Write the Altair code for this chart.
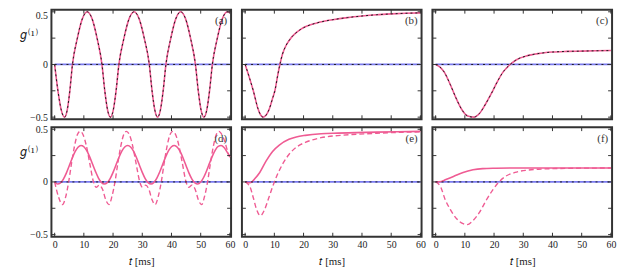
import altair as alt
import pandas as pd

# ---------------- data ----------------
# panel (a): exact (solid pink) and approximation (black dashed) coincide
t_a = [0, 1.13, 2.27, 3.4, 4.3, 5.2, 6.1, 7.78, 9.47, 11.15, 12.83, 14.52, 16.2,
       17.17, 18.13, 19.1, 20.07, 21.03, 22.0, 23.73, 25.47, 27.2, 28.93, 30.67, 32.4,
       33.35, 34.3, 35.25, 36.2, 37.15, 38.1, 39.78, 41.47, 43.15, 44.83, 46.52, 48.2,
       49.17, 50.13, 51.1, 52.07, 53.03, 54.0, 55.7, 57.4, 59.1, 60]
g_a = [0, -0.25, -0.433, -0.5, -0.433, -0.25, 0, 0.25, 0.433, 0.5, 0.433, 0.25, 0,
       -0.25, -0.433, -0.5, -0.433, -0.25, 0, 0.25, 0.433, 0.5, 0.433, 0.25, 0,
       -0.25, -0.433, -0.5, -0.433, -0.25, 0, 0.25, 0.433, 0.5, 0.433, 0.25, 0,
       -0.25, -0.433, -0.5, -0.433, -0.25, 0, 0.25, 0.433, 0.5, 0.49]

t_b = [0, 1.4, 2.8, 4.4, 5.3, 6.2, 7.2, 8.3, 9.3, 10.3, 11.1, 11.9, 12.8, 14, 15.5,
       17, 19, 21, 24, 27, 30, 35, 40, 45, 50, 55, 60]
g_b = [0, -0.12, -0.25, -0.42, -0.48, -0.5, -0.48, -0.42, -0.33, -0.235, -0.11, 0,
       0.1, 0.18, 0.245, 0.29, 0.333, 0.362, 0.39, 0.41, 0.425, 0.445, 0.46, 0.472,
       0.48, 0.486, 0.49]

t_c = [0, 1.5, 3, 5, 7, 9, 11, 13, 15, 17, 19, 21, 23, 25.5, 28, 31, 35, 40, 45, 50, 55, 60]
g_c = [0, -0.025, -0.075, -0.19, -0.32, -0.43, -0.49, -0.5, -0.465, -0.38, -0.28,
       -0.17, -0.075, 0, 0.05, 0.08, 0.103, 0.118, 0.124, 0.127, 0.13, 0.132]

t_d_solid = [0, 1, 2, 3, 4, 5, 6, 7, 8, 9, 10, 11, 12, 13, 14, 15, 16, 17, 18, 19,
             20, 21, 22, 23, 24, 25, 26, 27, 28, 29, 30, 31, 32, 33, 34, 35, 36, 37,
             38, 39, 40, 41, 42, 43, 44, 45, 46, 47, 48, 49, 50, 51, 52, 53, 54, 55,
             56, 57, 58, 59, 60]
g_d_solid = [0, -0.02, -0.01, 0.027, 0.084, 0.154, 0.225, 0.287, 0.329, 0.346,
             0.334, 0.297, 0.238, 0.168, 0.098, 0.037, -0.004, -0.02, -0.007, 0.032,
             0.091, 0.161, 0.232, 0.292, 0.332, 0.346, 0.332, 0.292, 0.232, 0.161,
             0.091, 0.032, -0.007, -0.02, -0.004, 0.037, 0.097, 0.168, 0.238, 0.297,
             0.334, 0.346, 0.329, 0.287, 0.225, 0.154, 0.084, 0.027, -0.01, -0.02,
             -0.001, 0.042, 0.104, 0.176, 0.245, 0.302, 0.337, 0.345, 0.326, 0.285, 0.24]

t_d_dash = [0, 1.3, 2.7, 3.8, 4.8, 5.8, 6.8, 7.8, 8.7, 9.7, 10.8, 12.0, 13.3, 14.2,
            15.3, 16.4, 17.5, 18.6, 19.6,
            20.65, 21.65, 22.65, 23.65, 24.55, 25.55, 26.65, 27.85, 29.15, 30.05,
            31.15, 32.25, 33.35, 34.45, 35.45,
            36.5, 37.5, 38.5, 39.5, 40.4, 41.4, 42.5, 43.7, 45.0, 45.9, 47.0, 48.1,
            49.2, 50.3, 51.3,
            52.35, 53.35, 54.35, 55.35, 56.25, 57.25, 58.4, 59.2, 60]
g_d_dash = [0, -0.14, -0.215, -0.14, 0, 0.18, 0.34, 0.45, 0.48, 0.45, 0.35, 0.18, 0,
            -0.05, -0.03, -0.07, -0.17, -0.215, -0.14,
            0, 0.18, 0.34, 0.45, 0.48, 0.45, 0.35, 0.18, 0, -0.05, -0.03, -0.07,
            -0.17, -0.215, -0.14,
            0, 0.18, 0.34, 0.45, 0.48, 0.45, 0.35, 0.18, 0, -0.05, -0.03, -0.07,
            -0.17, -0.215, -0.14,
            0, 0.18, 0.34, 0.45, 0.48, 0.45, 0.37, 0.29, 0.23]

t_e_solid = [0, 1.5, 2.5, 3.3, 5, 7.2, 9.4, 11.7, 15, 17.5, 20.6, 26, 31.7, 38, 45, 52, 60]
g_e_solid = [0, -0.008, 0.005, 0.03, 0.09, 0.2, 0.29, 0.35, 0.405, 0.427, 0.442,
             0.457, 0.463, 0.468, 0.473, 0.477, 0.48]
t_e_dash = [0, 1.7, 2.8, 3.9, 5.2, 6.7, 8.1, 10, 12.8, 15, 17.8, 20.6, 26, 31.7, 38, 45, 52, 60]
g_e_dash = [0, -0.05, -0.15, -0.26, -0.32, -0.26, -0.15, 0, 0.168, 0.26, 0.335,
            0.375, 0.42, 0.44, 0.452, 0.462, 0.47, 0.475]

t_f_solid = [0, 2, 3.3, 6.1, 9.4, 12.8, 16.1, 20.6, 26, 35, 45, 60]
g_f_solid = [0, 0.005, 0.02, 0.052, 0.09, 0.115, 0.126, 0.13, 0.132, 0.132, 0.132, 0.132]
t_f_dash = [0, 1.7, 3.3, 5, 7.2, 9.4, 10.8, 12.8, 15, 17.2, 19.4, 21.7, 23.9, 27.2,
            31.7, 36.1, 41.1, 48, 60]
g_f_dash = [0, -0.046, -0.17, -0.26, -0.35, -0.396, -0.405, -0.366, -0.29, -0.18,
            -0.082, 0, 0.052, 0.09, 0.113, 0.122, 0.127, 0.13, 0.132]

zero_t = [0, 60]
zero_g = [0, 0]

x_tick_values = [0, 10, 20, 30, 40, 50, 60]
y_tick_values = [-0.5, -0.25, 0, 0.25, 0.5]
y_label_values = [-0.5, 0, 0.5]
panel_labels = ["(a)", "(b)", "(c)", "(d)", "(e)", "(f)"]
x_title = "𝑡 [ms]"
y_title = "𝑔⁽¹⁾"

# ---------------- style ----------------
PINK = "#ef5b93"
BLUE = "#7b7bf0"
DARK = "#1a1a1a"
FRAME = "#333333"
FONT = "Liberation Serif"
W, H = 182, 111
TK = 4

xscale = alt.Scale(domain=[-1.1, 60.4], nice=False, zero=False)
yscale = alt.Scale(domain=[-0.52, 0.52], nice=False, zero=False)


def frame_df(t, g):
    return pd.DataFrame({"t": t, "g": g})


def make_panel(solid, dashed, overlay, label, show_x, show_y, top_row):
    if show_x:
        xaxis = alt.Axis(values=x_tick_values, format="d", ticks=False, domain=False,
                         grid=False, labelPadding=3, title=x_title,
                         labelFont=FONT, titleFont=FONT, labelColor="#222",
                         titleColor="#222",
                         titleFontWeight="normal", titleFontSize=11, titlePadding=6,
                         labelFontSize=10)
    else:
        xaxis = None
    if show_y:
        if top_row:
            base_line = {"condition": {"test": "datum.value > 0.4", "value": "top"},
                         "value": "middle"}
            loff = {"condition": {"test": "datum.value > 0.4", "value": -1},
                    "value": 0}
        else:
            base_line = "middle"
            loff = 0
        yaxis = alt.Axis(values=y_label_values,
                         labelExpr="datum.value == 0 ? '0' : format(datum.value, '.1f')",
                         ticks=False, domain=False, grid=False, labelPadding=4,
                         labelBaseline=base_line, labelOffset=loff,
                         labelFont=FONT, titleFont=FONT, labelColor="#222",
                         titleColor="#222",
                         title=y_title, titleAngle=0, titleX=-23, titleY=25,
                         titleAlign="center", titleBaseline="middle",
                         titleFontWeight="normal",
                         titleFontSize=12, labelFontSize=10)
    else:
        yaxis = None
    x = alt.X("t:Q", scale=xscale, axis=xaxis)
    y = alt.Y("g:Q", scale=yscale, axis=yaxis)

    zero = alt.Chart(frame_df(zero_t, zero_g))
    layers = [zero.mark_line(color=BLUE, strokeWidth=1.8).encode(x=x, y=y)]
    layers.append(alt.Chart(frame_df(*solid)).mark_line(
        color=PINK, strokeWidth=1.6, interpolate="monotone").encode(x=x, y=y))
    if dashed is not None:
        layers.append(alt.Chart(frame_df(*dashed)).mark_line(
            color=PINK, strokeWidth=1.4, strokeDash=[5, 3],
            interpolate="monotone").encode(x=x, y=y))
    if overlay:
        layers.append(alt.Chart(frame_df(*solid)).mark_line(
            color=DARK, strokeWidth=1.0, strokeDash=[2, 3],
            interpolate="monotone").encode(x=x, y=y))
    layers.append(zero.mark_line(color=DARK, strokeWidth=1.0,
                                 strokeDash=[2, 4]).encode(x=x, y=y))

    xt = alt.Chart(pd.DataFrame({"t": x_tick_values}))
    yt = alt.Chart(pd.DataFrame({"g": y_tick_values}))
    layers.append(xt.mark_rule(color=FRAME, strokeWidth=1).encode(
        x=x, y=alt.value(H), y2=alt.value(H - TK)))
    layers.append(xt.mark_rule(color=FRAME, strokeWidth=1).encode(
        x=x, y=alt.value(0), y2=alt.value(TK)))
    layers.append(yt.mark_rule(color=FRAME, strokeWidth=1).encode(
        y=y, x=alt.value(0), x2=alt.value(TK)))
    layers.append(yt.mark_rule(color=FRAME, strokeWidth=1).encode(
        y=y, x=alt.value(W), x2=alt.value(W - TK)))

    layers.append(alt.Chart(pd.DataFrame({"lab": [label]})).mark_text(
        align="right", baseline="middle", font=FONT, fontSize=11, color="#333"
    ).encode(text="lab:N", x=alt.value(W - 4), y=alt.value(12)))

    return alt.layer(*layers).properties(width=W, height=H)


panels = [
    make_panel((t_a, g_a), None, True, panel_labels[0], False, True, True),
    make_panel((t_b, g_b), None, True, panel_labels[1], False, False, True),
    make_panel((t_c, g_c), None, True, panel_labels[2], False, False, True),
    make_panel((t_d_solid, g_d_solid), (t_d_dash, g_d_dash), False, panel_labels[3], True, True, False),
    make_panel((t_e_solid, g_e_solid), (t_e_dash, g_e_dash), False, panel_labels[4], True, False, False),
    make_panel((t_f_solid, g_f_solid), (t_f_dash, g_f_dash), False, panel_labels[5], True, False, False),
]

chart = alt.concat(*panels, columns=3, spacing={"row": 8, "column": 11},
                   bounds="flush").properties(
    padding={"left": 10, "top": -3, "right": 0, "bottom": 0}
).configure(
    background="white"
).configure_view(
    stroke=FRAME, strokeWidth=2
).configure_axis(
    labelFont=FONT, titleFont=FONT, labelColor="#222", titleColor="#222"
)

chart.save("out.html", embed_options={"renderer": "svg", "actions": False})
